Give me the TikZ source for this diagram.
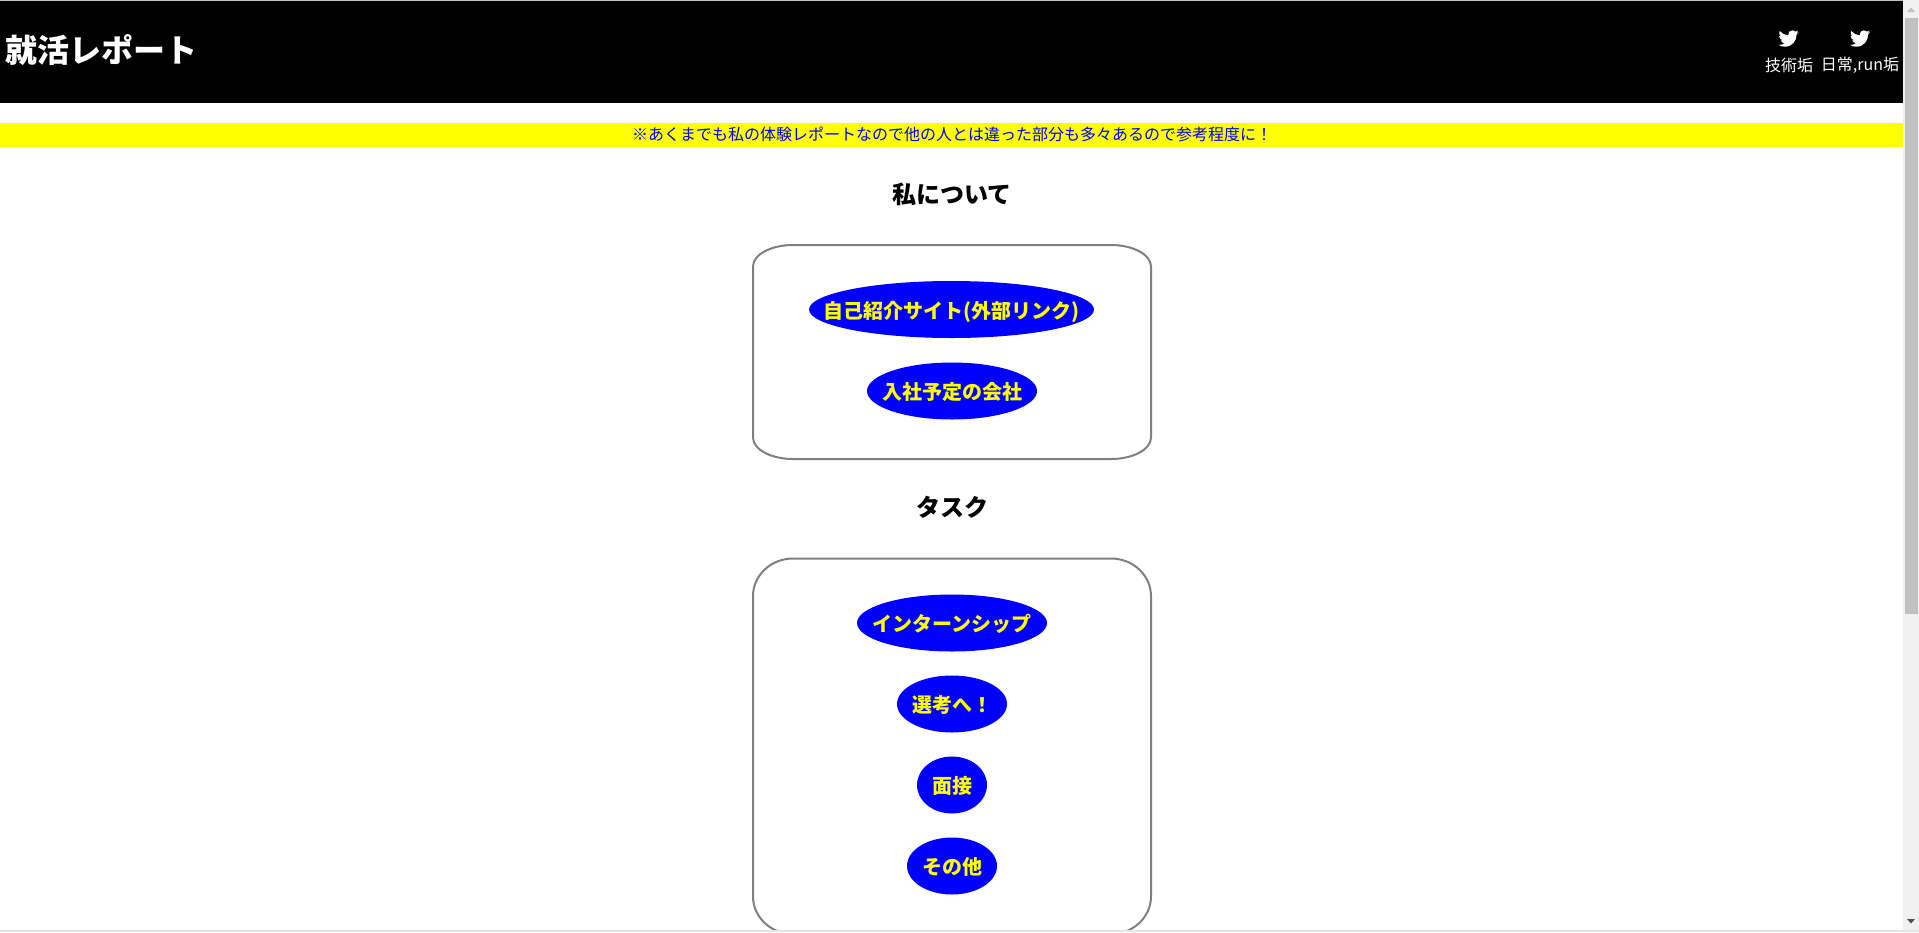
\documentclass[tikz,border=0pt]{standalone}
\usepackage{fontspec}
\setmainfont{Noto Sans CJK JP}
\usetikzlibrary{shapes.geometric}
\definecolor{panelgray}{HTML}{808080}
\definecolor{barbg}{HTML}{F0F0F0}
\definecolor{barthumb}{HTML}{C0C0C0}
\definecolor{bararrow}{HTML}{505050}
\definecolor{bottomstrip}{HTML}{E6E6DC}
\definecolor{pureyellow}{RGB}{255,255,0}
\definecolor{pureblue}{RGB}{0,0,255}
\newcommand{\px}[1]{\fontsize{#1pt}{#1pt}\selectfont}
\tikzset{
  x=1pt,y=1pt,
  pill/.style={shape=ellipse,fill=pureblue,text=pureyellow,inner sep=0pt,minimum height=57pt,text height=17pt,text depth=0pt,font=\px{20}\bfseries},
  heading/.style={inner sep=0pt,text=black,font=\px{24}\bfseries},
  panel/.style={draw=panelgray,line width=2pt,fill=white},
  tw/.style={inner sep=0pt,text=white,font=\px{16}},
}
\newcommand{\pilltext}[1]{\makebox[0pt][c]{#1}}
\newcommand{\bird}[1]{%
  \begin{scope}[shift={(#1)},x=0.0395pt,y=-0.0395pt,shift={(-256,-256)}]
  \fill[white] (459.37,151.716)
   .. controls (459.695,156.264) and (459.695,160.813) .. (459.695,165.361)
   .. controls (459.695,304.081) and (354.112,463.919) .. (161.137,463.919)
   .. controls (101.685,463.919) and (46.457,446.7) .. (0,416.813)
   .. controls (8.447,417.787) and (16.568,418.112) .. (25.34,418.112)
   .. controls (74.395,418.112) and (119.553,401.544) .. (155.614,373.28)
   .. controls (109.482,372.305) and (70.822,342.092) .. (57.502,300.508)
   .. controls (64,301.482) and (70.497,302.132) .. (77.32,302.132)
   .. controls (86.741,302.132) and (96.163,300.832) .. (104.934,298.559)
   .. controls (56.853,288.812) and (20.791,246.579) .. (20.791,195.574)
   -- (20.791,194.275)
   .. controls (34.76,202.072) and (51.005,206.945) .. (68.222,207.594)
   .. controls (39.958,188.751) and (21.441,156.589) .. (21.441,120.203)
   .. controls (21.441,100.711) and (26.638,82.843) .. (35.735,67.249)
   .. controls (87.39,130.924) and (165.035,172.507) .. (252.1,177.056)
   .. controls (250.476,169.259) and (249.501,161.138) .. (249.501,153.016)
   .. controls (249.501,95.188) and (296.283,48.082) .. (354.435,48.082)
   .. controls (384.648,48.082) and (411.937,60.752) .. (431.105,81.219)
   .. controls (454.82,76.671) and (477.561,67.899) .. (497.704,55.879)
   .. controls (489.906,80.245) and (473.338,100.712) .. (451.572,113.706)
   .. controls (472.689,111.433) and (493.156,105.584) .. (511.998,97.463)
   .. controls (497.706,118.254) and (479.837,136.771) .. (459.37,151.716) -- cycle;
  \end{scope}}
\begin{document}
\begin{tikzpicture}
\useasboundingbox (0,0) rectangle (1919,-932);
\fill[white] (0,0) rectangle (1919,-932);
% panels (clipped by the window)
\begin{scope}
\clip (0,0) rectangle (1903,-930);
\draw[panel] (793,-245) -- (1111,-245) arc[start angle=90,end angle=0,x radius=40,y radius=21.5]
  -- (1151,-437.5) arc[start angle=0,end angle=-90,x radius=40,y radius=21.5]
  -- (793,-459) arc[start angle=270,end angle=180,x radius=40,y radius=21.5]
  -- (753,-266.5) arc[start angle=180,end angle=90,x radius=40,y radius=21.5] -- cycle;
\draw[panel] (793,-558.5) -- (1111,-558.5) arc[start angle=90,end angle=0,x radius=40,y radius=37.6]
  -- (1151,-896.4) arc[start angle=0,end angle=-90,x radius=40,y radius=37.6]
  -- (793,-934) arc[start angle=270,end angle=180,x radius=40,y radius=37.6]
  -- (753,-596.1) arc[start angle=180,end angle=90,x radius=40,y radius=37.6] -- cycle;
\end{scope}
% header
\fill[barthumb] (0,0) rectangle (1919,-1);
\fill[black] (0,-1) rectangle (1903,-103);
\node[anchor=west,inner sep=0pt,text=white,font=\px{32}\bfseries] (title) at (5.5,-50) {就活レポート};
\bird{1788.5,-38.5}
\bird{1860,-38.5}
\node[tw] (tech) at (1789,-65.5) {技術垢};
\node[tw] (daily) at (1860,-65.5) {日常,run垢};
% notice
\fill[pureyellow] (0,-123) rectangle (1903,-147);
\node[inner sep=0pt,text=pureblue,font=\px{16}] (notice) at (952,-134.5) {※あくまでも私の体験レポートなので他の人とは違った部分も多々あるので参考程度に！};
% headings
\node[heading] (about) at (952,-194) {私について};
\node[heading] (task) at (952,-507) {タスク};
% pills
\node[pill,minimum width=285pt] (p1) at (951.5,-309.5) {\pilltext{自己紹介サイト(外部リンク)}};
\node[pill,minimum width=170pt] (p2) at (952,-391) {\pilltext{入社予定の会社}};
\node[pill,minimum width=190pt] (t1) at (952,-623) {\pilltext{インターンシップ}};
\node[pill,minimum width=110pt] (t2) at (952,-704) {\pilltext{選考へ！}};
\node[pill,minimum width=70pt] (t3) at (952,-785) {\pilltext{面接}};
\node[pill,minimum width=90pt] (t4) at (952,-866) {\pilltext{その他}};
% scrollbar
\fill[barbg] (1903,0) rectangle (1919,-932);
\fill[barthumb] (1905,-18) rectangle (1918,-614);
\fill[barthumb] (1907,-12) -- (1911,-7.5) -- (1915,-12) -- cycle;
\fill[bararrow] (1907,-919) -- (1911,-923.5) -- (1915,-919) -- cycle;
% bottom strip
\fill[bottomstrip] (0,-930) rectangle (1919,-932);
\end{tikzpicture}
\end{document}
